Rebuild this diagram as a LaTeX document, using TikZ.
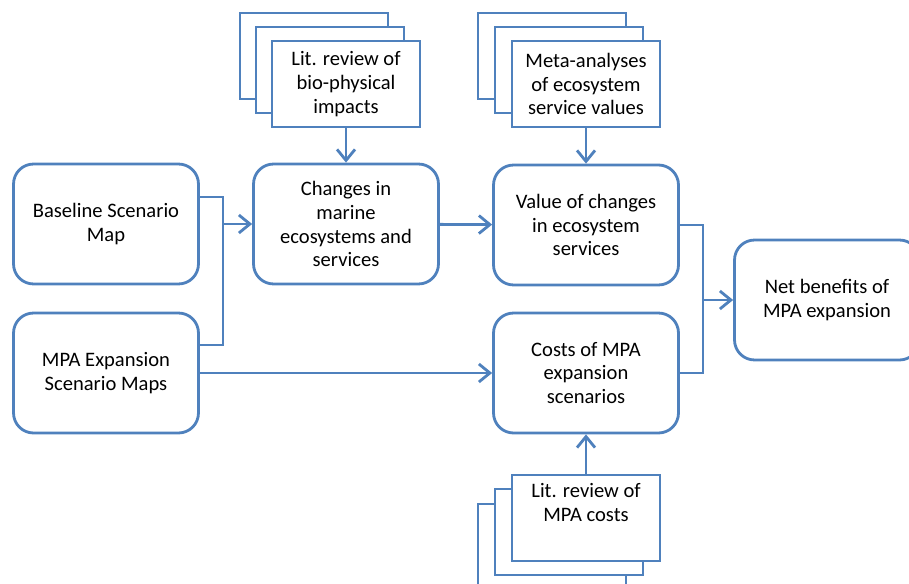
\documentclass[tikz,border=0pt]{standalone}
\usepackage{fontspec}
\setmainfont{Carlito}
\usetikzlibrary{arrows.meta,calc}
\definecolor{flowblue}{RGB}{79,129,189}
\tikzset{
    procbox/.style={draw=flowblue, line width=1.6pt, rounded corners=0.4cm, fill=white,
        minimum width=3.7cm, minimum height=2.4cm, align=center,
        font=\fontsize{11.7}{13.6}\selectfont},
    docbox/.style={draw=flowblue, line width=0.9pt, fill=white,
        minimum width=2.96cm, minimum height=1.72cm, align=center,
        font=\fontsize{11.7}{13.6}\selectfont},
    wire/.style={draw=flowblue, line width=1.6pt},
    flow/.style={wire, -{Straight Barb[length=2.2mm,width=3.6mm]}}
}
\begin{document}
\begin{tikzpicture}[x=0.02cm,y=-0.02cm]
    \useasboundingbox (0,0) rectangle (909,584);

    \node[procbox] (base) at (106,224) {Baseline Scenario\\Map};
    \node[procbox] (mpa) at (106,373) {MPA Expansion\\Scenario Maps};
    \node[procbox] (changes) at (346,224) {Changes in\\marine\\ecosystems and\\services};
    \node[procbox] (value) at (586,225) {Value of changes\\in ecosystem\\services};
    \node[procbox] (costs) at (586,373) {Costs of MPA\\expansion\\scenarios};
    \node[procbox] (net) at (827,300) {Net benefits of\\MPA expansion};

    \node[docbox] (bio3) at (314,56) {};
    \node[docbox] (bio2) at (330,70) {};
    \node[docbox] (bio) at (346,84) {Lit. review of\\bio-physical\\impacts};

    \node[docbox] (meta3) at (552,56) {};
    \node[docbox] (meta2) at (569,70) {};
    \node[docbox] (meta) at (586,84) {Meta-analyses\\of ecosystem\\service values};

    \node[docbox] (lit3) at (552,547) {};
    \node[docbox] (lit2) at (569,532) {};
    \node[docbox] (lit) at (586,518) {Lit. review of\\MPA costs\\\strut};

    \coordinate (bjoin) at (223,224);
    \coordinate (vjoin) at (703,300);

    \draw[wire] ([yshift=0.54cm]base.east) -| (bjoin) |- ([yshift=0.56cm]mpa.east);
    \draw[flow] (bjoin) -- (changes);
    \draw[flow] (bio) -- (changes);
    \draw[flow] (meta) -- (value);
    \draw[flow] (changes) -- (value);
    \draw[flow] (mpa) -- (costs);
    \draw[flow] (lit) -- (costs);

    \draw[wire] (value.east) -| (vjoin) |- (costs.east);
    \draw[flow] (vjoin) -- (net);
\end{tikzpicture}
\end{document}
